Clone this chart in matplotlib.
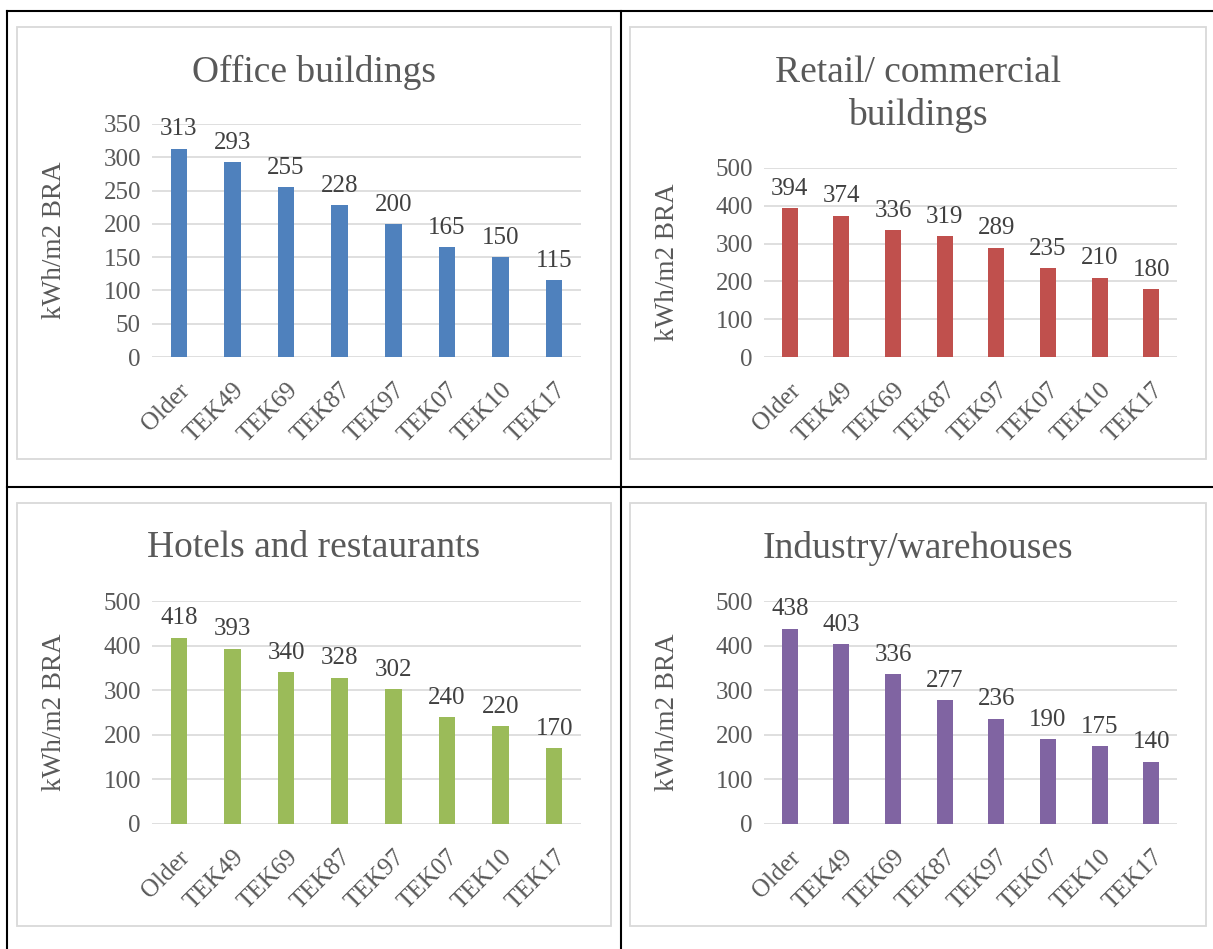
import matplotlib
matplotlib.use("Agg")
import matplotlib.pyplot as plt
from matplotlib.lines import Line2D
from matplotlib.patches import Rectangle

plt.rcParams['font.family'] = ['Liberation Serif', 'DejaVu Serif']

# Data
categories = ["Older", "TEK49", "TEK69", "TEK87", "TEK97", "TEK07", "TEK10", "TEK17"]
office = [313, 293, 255, 228, 200, 165, 150, 115]
retail = [394, 374, 336, 319, 289, 235, 210, 180]
hotels = [418, 393, 340, 328, 302, 240, 220, 170]
industry = [438, 403, 336, 277, 236, 190, 175, 140]

titles = ["Office buildings", "Retail/ commercial\nbuildings",
          "Hotels and restaurants", "Industry/warehouses"]
colors = ["#4F81BD", "#C0504D", "#9BBB59", "#8064A2"]
y_max = [350, 500, 500, 500]
y_step = [50, 100, 100, 100]
y_label = "kWh/m2 BRA"

W, H = 1213, 949
TEXT = "#595959"
GRID = "#D9D9D9"

fig = plt.figure(figsize=(W / 100, H / 100), dpi=100)


def fx(x):
    return x / W


def fy(y):
    return 1 - y / H


# table lines
table_lw = 1.5
for (x0, y0, x1, y1) in [(7, 11, W, 11), (7, 487, W, 487), (7, 11, 7, H), (621, 11, 621, H)]:
    fig.add_artist(Line2D([fx(x0), fx(x1)], [fy(y0), fy(y1)], color="black", lw=table_lw))

# chart boxes (left, top, right, bottom) in pixels
boxes = [(17, 27, 611, 459), (630, 27, 1206, 459),
         (17, 503, 611, 926), (630, 503, 1206, 926)]
for (l, t, r, b) in boxes:
    fig.add_artist(Rectangle((fx(l), fy(b)), fx(r) - fx(l), fy(t) - fy(b),
                             fill=False, edgecolor=GRID, lw=1.3))

# plot areas (left, top, right, bottom) in pixels
areas = [(152, 124, 581, 357), (764, 168, 1177, 357),
         (152, 601, 581, 824), (764, 601, 1177, 824)]
title_y = [72, 94, 548, 548]
ylabel_x = [67, 680, 67, 680]

series = [office, retail, hotels, industry]

for i in range(4):
    l, t, r, b = areas[i]
    ax = fig.add_axes([fx(l), fy(b), fx(r) - fx(l), fy(t) - fy(b)])
    x = range(len(categories))
    bars = ax.bar(x, series[i], width=0.31, color=colors[i], zorder=3)
    for rect, v in zip(bars, series[i]):
        ax.annotate(str(v), (rect.get_x() + rect.get_width() / 2, v),
                    xytext=(0, 6), textcoords="offset points",
                    ha="center", va="bottom", fontsize=18, color="#404040")
    ax.set_xlim(-0.5, len(categories) - 0.5)
    ax.set_ylim(0, y_max[i])
    ax.set_yticks(range(0, y_max[i] + 1, y_step[i]))
    ax.set_xticks(list(x))
    ax.set_xticklabels(categories, rotation=45, ha="right", rotation_mode="anchor",
                       fontsize=18, color=TEXT)
    ax.tick_params(axis="y", length=0, pad=8, labelsize=18, labelcolor=TEXT)
    ax.tick_params(axis="x", length=0, pad=16)
    ax.yaxis.grid(True, color=GRID, lw=1.2)
    ax.set_axisbelow(True)
    for s in ax.spines.values():
        s.set_visible(False)
    ax.patch.set_alpha(0)
    ax.set_ylabel(y_label, fontsize=19.5, color=TEXT)
    ax.yaxis.set_label_coords((ylabel_x[i] - l) / (r - l), 0.5)

    bl, bt, br, bb = boxes[i]
    fig.text(fx((bl + br) / 2), fy(title_y[i]), titles[i], ha="center", va="center",
             fontsize=27, color=TEXT, linespacing=1.3)

fig.savefig("out.png", dpi=100, facecolor="white")
